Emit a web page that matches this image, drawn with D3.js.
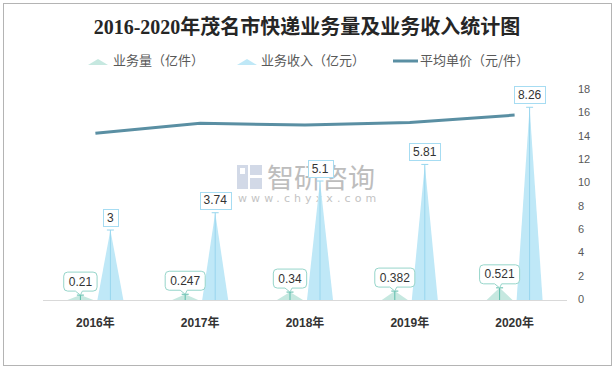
<!DOCTYPE html>
<html><head><meta charset="utf-8">
<script src="https://cdn.jsdelivr.net/npm/d3@7"></script>
<style>body{margin:0;background:#fff}svg{display:block}</style>
</head><body>
<script>
const years = ["2016年","2017年","2018年","2019年","2020年"];
const volume = [0.21, 0.247, 0.34, 0.382, 0.521];
const revenue = [3, 3.74, 5.1, 5.81, 8.26];
const price = [14.29, 15.14, 15.0, 15.21, 15.85];
const rightTicks = [0,2,4,6,8,10,12,14,16,18];
const seriesNames = ["业务量（亿件）","业务收入（亿元）","平均单价（元/件）"];
const title = "2016-2020年茂名市快递业务量及业务收入统计图";

const W=615,H=369;
const svg=d3.select("body").append("svg").attr("width",W).attr("height",H);
svg.append("rect").attr("x",3.5).attr("y",3.5).attr("width",608).attr("height",362).attr("fill","#fff").attr("stroke","#b4b4b4");

const x=d3.scaleBand().domain(years).range([43,567]);
const yL=d3.scaleLinear().domain([0,9]).range([300,90]);
const yR=d3.scaleLinear().domain([0,18]).range([300,90]);

// title
svg.append("text").attr("x",307).attr("y",34).attr("text-anchor","middle")
  .attr("font-family","'Liberation Serif','Noto Sans CJK SC'").attr("font-weight","bold")
  .attr("font-size",20).attr("fill","#262626").text(title);

// legend
const ly=61;
const lg=svg.append("g").attr("font-family","'Noto Sans CJK SC'").attr("font-size",13).attr("fill","#595959");
lg.append("path").attr("d",`M88,${ly+4} L98,${ly-2} L108,${ly+4} Z`).attr("fill","#c6e8e0");
lg.append("text").attr("x",113).attr("y",ly).attr("dominant-baseline","middle").text(seriesNames[0]);
lg.append("path").attr("d",`M237,${ly+4} L247,${ly-2} L257,${ly+4} Z`).attr("fill","#bfe8f7");
lg.append("text").attr("x",261).attr("y",ly).attr("dominant-baseline","middle").text(seriesNames[1]);
lg.append("line").attr("x1",393).attr("x2",418).attr("y1",ly).attr("y2",ly).attr("stroke","#5a8fa3").attr("stroke-width",3);
lg.append("text").attr("x",420).attr("y",ly).attr("dominant-baseline","middle").text(seriesNames[2]);

// watermark
const wm=svg.append("g").attr("opacity",0.75);
wm.append("rect").attr("x",237).attr("y",165).attr("width",11).attr("height",24).attr("fill","#c3cde0");
wm.append("rect").attr("x",250).attr("y",165).attr("width",12).attr("height",10).attr("fill","#c3cde0");
wm.append("rect").attr("x",250).attr("y",178).attr("width",12).attr("height",11).attr("fill","#c3cde0");
wm.append("rect").attr("x",240).attr("y",168).attr("width",5).attr("height",6).attr("fill","#fff");
wm.append("text").attr("x",267).attr("y",188).attr("font-family","'Noto Sans CJK SC'").attr("font-size",27).attr("fill","#a8a8a8").text("智研咨询");
wm.append("text").attr("x",238).attr("y",202).attr("font-family","'DejaVu Sans'").attr("font-size",11).attr("letter-spacing",4.1).attr("fill","#b0b0b0").text("www.chyxx.com");

// baseline
svg.append("line").attr("x1",43).attr("x2",567).attr("y1",300.5).attr("y2",300.5).attr("stroke","#d9d9d9");

const hw=13, off=15;
const c=d=>x(d)+x.bandwidth()/2;

function drawSeries(vals, scale, dx, fill, lineCol){
  const g=svg.append("g");
  g.selectAll("path").data(vals).join("path")
    .attr("d",(v,i)=>{const cx=c(years[i])+dx;return `M${cx-hw},300 L${cx},${scale(v)} L${cx+hw},300 Z`;})
    .attr("fill",fill);
  g.selectAll("line.v").data(vals).join("line").attr("class","v")
    .attr("x1",(v,i)=>c(years[i])+dx).attr("x2",(v,i)=>c(years[i])+dx)
    .attr("y1",300).attr("y2",v=>scale(v)).attr("stroke",lineCol).attr("stroke-width",1);
  g.selectAll("line.cap").data(vals).join("line").attr("class","cap")
    .attr("x1",(v,i)=>c(years[i])+dx-3.5).attr("x2",(v,i)=>c(years[i])+dx+3.5)
    .attr("y1",v=>scale(v)).attr("y2",v=>scale(v)).attr("stroke",lineCol).attr("stroke-width",1);
}
drawSeries(volume,yL,-off,"#c6e8e0","#5cbcab");
drawSeries(revenue,yL,off,"#bfe8f7","#98d6ee");

// price line
svg.append("path").datum(price)
  .attr("d",d3.line().x((v,i)=>c(years[i])).y(v=>yR(v)))
  .attr("fill","none").attr("stroke","#5a8fa3").attr("stroke-width",3);

// labels
const lf="'Liberation Sans'";
const labG=svg.append("g");
revenue.forEach((v,i)=>{
  const cx=c(years[i])+off, bot=yL(v)-4;
  const g=labG.append("g");
  const rect=g.append("rect");
  const t=g.append("text").attr("x",cx).attr("y",bot-4.5).attr("text-anchor","middle")
    .attr("font-family",lf).attr("font-size",12).attr("fill","#333").text(v);
  const w=t.node().getComputedTextLength()+8;
  rect.attr("x",Math.round(cx-w/2)+0.5).attr("y",Math.round(bot-17)+0.5).attr("width",Math.round(w)).attr("height",17)
    .attr("fill","#fff").attr("stroke","#a6dcf2");
});
volume.forEach((v,i)=>{
  const cx=c(years[i])-off, ap=yL(v), bot=ap-4;
  const g=labG.append("g");
  const p=g.append("path");
  const t=g.append("text").attr("x",cx).attr("y",bot-5.5).attr("text-anchor","middle")
    .attr("font-family",lf).attr("font-size",12).attr("fill","#333").text(v);
  const w=t.node().getComputedTextLength()+10, h=19, l=cx-w/2, top=bot-h;
  const r=4;
  p.attr("d",
    `M${l+r},${top} H${l+w-r} Q${l+w},${top} ${l+w},${top+r} V${bot-r} Q${l+w},${bot} ${l+w-r},${bot} H${cx+2} L${cx},${ap} L${cx-5},${bot} H${l+r} Q${l},${bot} ${l},${bot-r} V${top+r} Q${l},${top} ${l+r},${top} Z`)
    .attr("fill","#fff").attr("stroke","#96d5ca");
});

// x labels
svg.append("g").selectAll("text").data(years).join("text")
  .attr("x",d=>c(d)).attr("y",327).attr("text-anchor","middle")
  .attr("font-family","'Liberation Sans','Noto Sans CJK SC'").attr("font-weight","bold").attr("font-size",12).attr("fill","#333")
  .text(d=>d);

// right axis
svg.append("g").selectAll("text").data(rightTicks).join("text")
  .attr("x",578).attr("y",d=>yR(d)).attr("dominant-baseline","middle")
  .attr("font-family",lf).attr("font-size",11).attr("fill","#595959").text(d=>d);
</script>
</body></html>
